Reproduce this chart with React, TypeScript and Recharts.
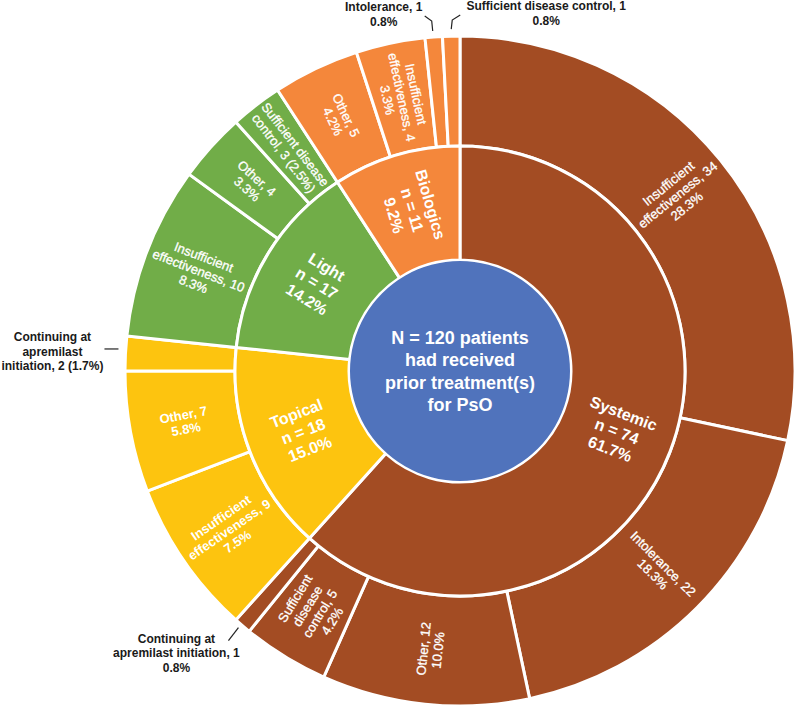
import { PieChart, Pie, Cell } from 'recharts';

// PsO prior treatments, N = 120
const total = 120;
const centerLines = ['N = 120 patients', 'had received', 'prior treatment(s)', 'for PsO'];

const groups = ['Systemic', 'Topical', 'Light', 'Biologics'];
const groupCounts = [74, 18, 17, 11];

const reasonGroups = [
  'Systemic', 'Systemic', 'Systemic', 'Systemic', 'Systemic',
  'Topical', 'Topical', 'Topical',
  'Light', 'Light', 'Light',
  'Biologics', 'Biologics', 'Biologics', 'Biologics',
];
const reasons = [
  'Insufficient effectiveness', 'Intolerance', 'Other', 'Sufficient disease control', 'Continuing at apremilast initiation',
  'Insufficient effectiveness', 'Other', 'Continuing at apremilast initiation',
  'Insufficient effectiveness', 'Other', 'Sufficient disease control',
  'Other', 'Insufficient effectiveness', 'Intolerance', 'Sufficient disease control',
];
const reasonCounts = [34, 22, 12, 5, 1, 9, 7, 2, 10, 4, 3, 5, 4, 1, 1];

// label lines, {n} = count, {p} = share of total
const reasonLabels = [
  ['Insufficient', 'effectiveness, {n}', '{p}'],
  ['Intolerance, {n}', '{p}'],
  ['Other, {n}', '{p}'],
  ['Sufficient', 'disease', 'control, {n}', '{p}'],
  ['Continuing at', 'apremilast initiation, {n}', '{p}'],
  ['Insufficient', 'effectiveness, {n}', '{p}'],
  ['Other, {n}', '{p}'],
  ['Continuing at', 'apremilast', 'initiation, {n} ({p})'],
  ['Insufficient', 'effectiveness, {n}', '{p}'],
  ['Other, {n}', '{p}'],
  ['Sufficient disease', 'control, {n} ({p})'],
  ['Other, {n}', '{p}'],
  ['Insufficient', 'effectiveness, {n}', '{p}'],
  ['Intolerance, {n}', '{p}'],
  ['Sufficient disease control, {n}', '{p}'],
];

const colors: Record<string, string> = {
  Systemic: '#A34C23',
  Topical: '#FDC40F',
  Light: '#71AD48',
  Biologics: '#F4873B',
};
const CENTER_FILL = '#5073BC';
const FONT = '"Liberation Sans", Arial, sans-serif';
const RAD = Math.PI / 180;

// small slices labelled outside: label offset from slice edge + leader line points
const callouts: Record<number, { dx: number; dy: number; line: number[][] }> = {
  4: { dx: -66, dy: 17, line: [[-4, 2], [-14, 15]] },
  7: { dx: -73, dy: -12, line: [[-7, -4.5], [-21, -4.5]] },
  13: { dx: -50, dy: -26, line: [[-1, -6], [-2, -16], [-9, -21]] },
  14: { dx: 95, dy: -26, line: [[0, -7], [1, -16], [9, -21]] },
};

const groupData = groups.map((g, i) => ({ name: g, value: groupCounts[i] }));
const reasonData = reasons.map((r, i) => ({ name: r, group: reasonGroups[i], value: reasonCounts[i] }));

const pct = (n: number) => ((n / total) * 100).toFixed(1) + '%';
const fill = (tpl: string, n: number) => tpl.replace('{n}', String(n)).replace('{p}', pct(n));

const radialRot = (midAngle: number) => {
  let r = -midAngle;
  while (r <= -90) r += 180;
  while (r > 90) r -= 180;
  return r;
};

const Lines = ({ x, y, rot, lines, size, weight, lh, color, thicken = 0 }: any) => (
  <text
    x={x}
    y={y}
    transform={rot ? `rotate(${rot} ${x} ${y})` : undefined}
    textAnchor="middle"
    fill={color}
    stroke={thicken ? color : undefined}
    strokeWidth={thicken || undefined}
    fontSize={size}
    fontWeight={weight}
    fontFamily={FONT}
  >
    {lines.map((l: string, i: number) => (
      <tspan key={i} x={x} y={y + (i - (lines.length - 1) / 2) * lh + size * 0.35}>
        {l}
      </tspan>
    ))}
  </text>
);

const renderCenter = (props: any) => (
  <Lines x={props.cx} y={props.cy} lines={centerLines} size={18} weight="bold" lh={22.5} color="#fff" />
);

const renderGroup = (props: any) => {
  const { cx, cy, midAngle, innerRadius, outerRadius, index } = props;
  const r = (innerRadius + outerRadius) / 2;
  const x = cx + r * Math.cos(-midAngle * RAD);
  const y = cy + r * Math.sin(-midAngle * RAD);
  const n = groupCounts[index];
  return (
    <Lines
      x={x}
      y={y}
      rot={radialRot(midAngle)}
      lines={[groups[index], `n = ${n}`, pct(n)]}
      size={16}
      weight="bold"
      lh={19}
      color="#fff"
    />
  );
};

const renderReason = (props: any) => {
  const { cx, cy, midAngle, innerRadius, outerRadius, index } = props;
  const n = reasonCounts[index];
  const lines = reasonLabels[index].map((t) => fill(t, n));
  const co = callouts[index];
  if (co) {
    const ex = cx + outerRadius * Math.cos(-midAngle * RAD);
    const ey = cy + outerRadius * Math.sin(-midAngle * RAD);
    const pts = co.line.map(([dx, dy]) => `${ex + dx},${ey + dy}`).join(' ');
    return (
      <g>
        <polyline points={pts} fill="none" stroke="#222" strokeWidth={1.2} />
        <text x={ex + co.dx} y={ey + co.dy} textAnchor="middle" fill="#1a1a1a" fontSize={12} fontWeight="bold" fontFamily={FONT}>
          {lines.map((l, i) => (
            <tspan key={i} x={ex + co.dx} y={ey + co.dy + i * 14.5}>
              {l}
            </tspan>
          ))}
        </text>
      </g>
    );
  }
  const r = (innerRadius + outerRadius) / 2;
  const x = cx + r * Math.cos(-midAngle * RAD);
  const y = cy + r * Math.sin(-midAngle * RAD);
  const bold = reasonGroups[index] === 'Topical';
  return (
    <Lines
      x={x}
      y={y}
      rot={radialRot(midAngle)}
      lines={lines}
      size={13}
      weight={bold ? 'bold' : 'normal'}
      thicken={bold ? 0 : 0.3}
      lh={14.5}
      color="#fff"
    />
  );
};

export default function App() {
  return (
    <div style={{ position: 'absolute', left: 0, top: 0, width: 796, height: 708, background: '#fff' }}>
      <PieChart width={796} height={708} margin={{ top: 0, right: 0, bottom: 0, left: 0 }}>
        <Pie
          data={reasonData}
          dataKey="value"
          cx={460}
          cy={371}
          innerRadius={225}
          outerRadius={335}
          startAngle={90}
          endAngle={-270}
          stroke="#ffffff"
          strokeWidth={3}
          label={renderReason}
          labelLine={false}
          isAnimationActive={false}
        >
          {reasonData.map((d, i) => (
            <Cell key={i} fill={colors[d.group]} />
          ))}
        </Pie>
        <Pie
          data={groupData}
          dataKey="value"
          cx={460}
          cy={371}
          innerRadius={111}
          outerRadius={225}
          startAngle={90}
          endAngle={-270}
          stroke="#ffffff"
          strokeWidth={3}
          label={renderGroup}
          labelLine={false}
          isAnimationActive={false}
        >
          {groupData.map((d, i) => (
            <Cell key={i} fill={colors[d.name]} />
          ))}
        </Pie>
        <Pie
          data={[{ name: 'All', value: total }]}
          dataKey="value"
          cx={460}
          cy={371}
          innerRadius={0}
          outerRadius={110}
          startAngle={90}
          endAngle={-270}
          stroke="none"
          fill={CENTER_FILL}
          label={renderCenter}
          labelLine={false}
          isAnimationActive={false}
        />
      </PieChart>
    </div>
  );
}
